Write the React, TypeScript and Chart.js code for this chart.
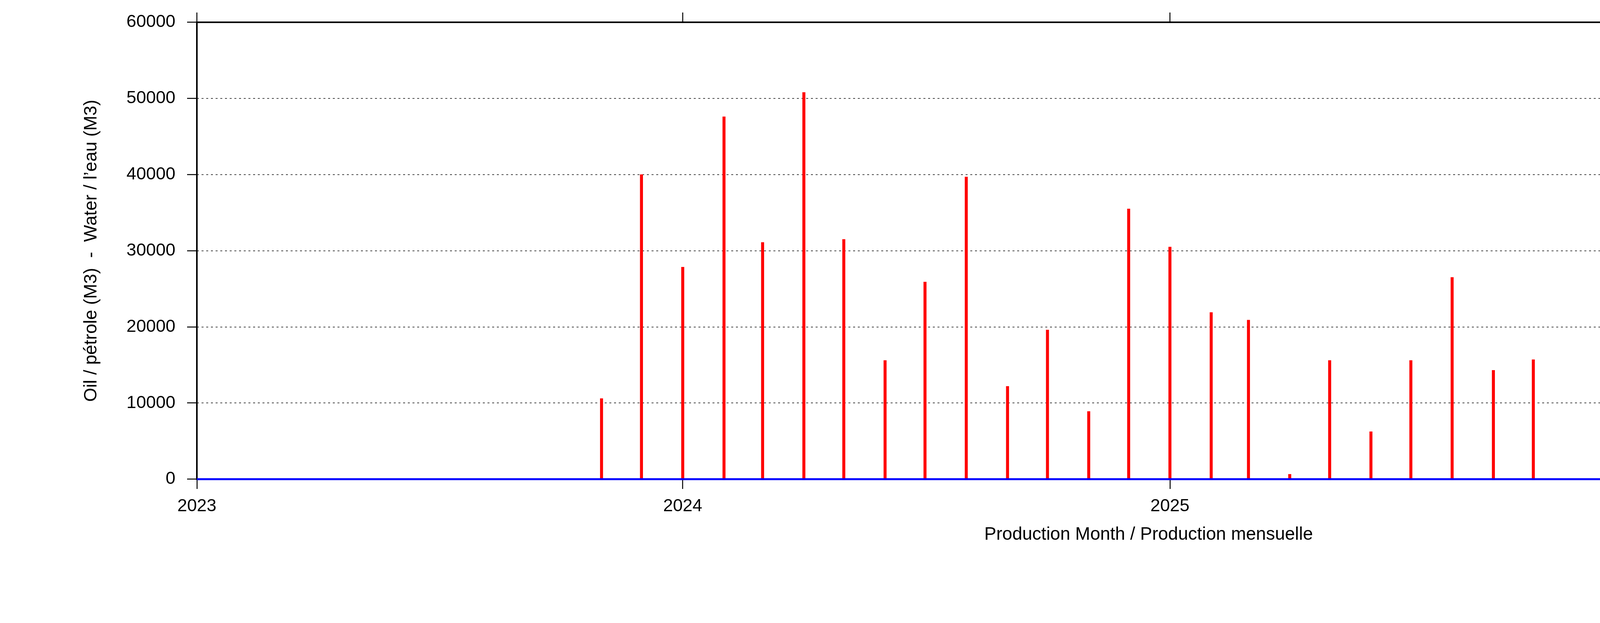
import { useEffect, useRef } from 'react';
import { Chart, registerables } from 'chart.js';

Chart.register(...registerables);

// Monthly production, first of each month
const months = [
  '2023-01', '2023-02', '2023-03', '2023-04', '2023-05', '2023-06', '2023-07', '2023-08', '2023-09', '2023-10', '2023-11', '2023-12',
  '2024-01', '2024-02', '2024-03', '2024-04', '2024-05', '2024-06', '2024-07', '2024-08', '2024-09', '2024-10', '2024-11', '2024-12',
  '2025-01', '2025-02', '2025-03', '2025-04', '2025-05', '2025-06', '2025-07', '2025-08', '2025-09', '2025-10', '2025-11', '2025-12',
  '2026-01', '2026-02', '2026-03', '2026-04', '2026-05', '2026-06', '2026-07', '2026-08', '2026-09', '2026-10', '2026-11', '2026-12',
];

const oilValues = [
  0, 0, 0, 0, 0, 0, 0, 0, 0, 0, 10600, 40000,
  27850, 47600, 31100, 50800, 31500, 15600, 25900, 39700, 12200, 19600, 8900, 35500,
  30500, 21900, 20900, 650, 15600, 6250, 15600, 26500, 14300, 15700, 0, 22300,
  16350, 14400, 13850, 15050, 7150, 0, 0, 0, 0, 0, 0, 0,
];

const waterValues = [
  0, 0, 0, 0, 0, 0, 0, 0, 0, 0, 0, 0,
  0, 0, 0, 0, 0, 0, 0, 0, 0, 0, 0, 0,
  0, 0, 0, 0, 0, 0, 0, 0, 0, 0, 0, 0,
  0, 0, 0, 0, 0, 0, 0, 0, 0, 0, 0, 0,
];

const tickYears = [2023, 2024, 2025, 2026];

const legendItems = [
  { label: 'oil / pétrole', color: '#ff0000' },
  { label: 'water / l’eau', color: '#0000ff' },
];

const FONT = "'Liberation Sans', Arial, Helvetica, sans-serif";

const toTime = (m: string) => {
  const [y, mo] = m.split('-').map(Number);
  return Date.UTC(y, mo - 1, 1);
};

const framePlugin = {
  id: 'frame',
  beforeDatasetsDraw(chart: any) {
    const { ctx, chartArea: a, scales } = chart;
    ctx.save();
    ctx.strokeStyle = '#000';
    ctx.lineWidth = 4;
    ctx.strokeRect(a.left, a.top, a.right - a.left, a.bottom - a.top);
    // mirrored tics on top and right
    ctx.lineWidth = 2.5;
    ctx.beginPath();
    scales.x.ticks.forEach((t: any) => {
      const px = scales.x.getPixelForValue(t.value);
      ctx.moveTo(px, a.top);
      ctx.lineTo(px, a.top - 25);
    });
    scales.y.ticks.forEach((t: any) => {
      const py = scales.y.getPixelForValue(t.value);
      ctx.moveTo(a.right, py);
      ctx.lineTo(a.right + 25, py);
    });
    ctx.stroke();
    ctx.restore();
  },
  afterDraw(chart: any) {
    const { ctx, chartArea: a } = chart;
    ctx.save();
    ctx.font = `45px ${FONT}`;
    ctx.textAlign = 'right';
    ctx.textBaseline = 'middle';
    legendItems.forEach((item, i) => {
      const y = a.top + 48 + i * 46;
      ctx.fillStyle = '#000';
      ctx.fillText(item.label, a.right - 222, y);
      ctx.strokeStyle = item.color;
      ctx.lineWidth = 4;
      ctx.beginPath();
      ctx.moveTo(a.right - 192, y);
      ctx.lineTo(a.right - 56, y);
      ctx.stroke();
    });
    ctx.restore();
  },
};

export default function App() {
  const canvasRef = useRef<HTMLCanvasElement | null>(null);
  const chartRef = useRef<Chart | null>(null);

  useEffect(() => {
    document.body.style.margin = '0';
    if (!canvasRef.current) return;
    if (chartRef.current) chartRef.current.destroy();

    const times = months.map(toTime);

    chartRef.current = new Chart(canvasRef.current, {
      type: 'bar',
      data: {
        datasets: [
          {
            type: 'line',
            label: 'water / l’eau',
            data: times.map((x, i) => ({ x, y: waterValues[i] })),
            borderColor: '#0000ff',
            borderWidth: 5,
            pointRadius: 0,
            tension: 0,
            clip: { left: 0, top: 5, right: 0, bottom: 5 },
            order: 0,
          },
          {
            type: 'bar',
            label: 'oil / pétrole',
            data: times.map((x, i) => ({ x, y: oilValues[i] })),
            backgroundColor: '#ff0000',
            borderWidth: 0,
            barThickness: 7,
            order: 1,
          },
        ],
      } as any,
      options: {
        animation: false,
        responsive: false,
        devicePixelRatio: 1,
        events: [],
        layout: { padding: { left: 207, top: 46, right: 106, bottom: 198 } },
        plugins: {
          legend: { display: false },
          tooltip: { enabled: false },
        },
        scales: {
          x: {
            type: 'linear',
            min: toTime('2023-01'),
            max: toTime('2026-12'),
            offset: false,
            afterBuildTicks: (scale: any) => {
              scale.ticks = tickYears.map((y) => ({ value: Date.UTC(y, 0, 1) }));
            },
            afterFit: (scale: any) => {
              scale.height = 170;
            },
            ticks: {
              color: '#000',
              font: { family: FONT, size: 45 },
              padding: 18,
              maxRotation: 0,
              autoSkip: false,
              callback: (v: any) => String(new Date(Number(v)).getUTCFullYear()),
            },
            grid: {
              offset: false,
              drawOnChartArea: false,
              drawTicks: true,
              tickLength: 25,
              tickWidth: 2.5,
              tickColor: '#000',
            },
            border: { display: false },
            title: {
              display: true,
              text: 'Production Month / Production mensuelle',
              color: '#000',
              font: { family: FONT, size: 46 },
              padding: 0,
            },
          },
          y: {
            min: 0,
            max: 60000,
            afterFit: (scale: any) => {
              scale.width = 297;
            },
            ticks: {
              stepSize: 10000,
              color: '#000',
              font: { family: FONT, size: 45 },
              padding: 30,
              callback: (v: any) => String(v),
            },
            grid: {
              color: (c: any) =>
                c.tick && (c.tick.value === 0 || c.tick.value === 60000) ? 'rgba(0,0,0,0)' : '#000',
              lineWidth: 1.5,
              drawTicks: true,
              tickLength: 25,
              tickWidth: 2.5,
              tickColor: '#000',
            },
            border: { display: false, dash: [5, 7] },
            title: {
              display: true,
              text: 'Oil / pétrole (M3)  -  Water / l’eau (M3)',
              color: '#000',
              font: { family: FONT, size: 46 },
              padding: 0,
            },
          },
        },
      } as any,
      plugins: [framePlugin],
    });

    return () => {
      if (chartRef.current) {
        chartRef.current.destroy();
        chartRef.current = null;
      }
    };
  }, []);

  return (
    <div style={{ width: '5483px', height: '1594px', background: '#fff' }}>
      <canvas ref={canvasRef} width={5483} height={1594} style={{ display: 'block' }} aria-label="Monthly oil and water production" />
    </div>
  );
}
